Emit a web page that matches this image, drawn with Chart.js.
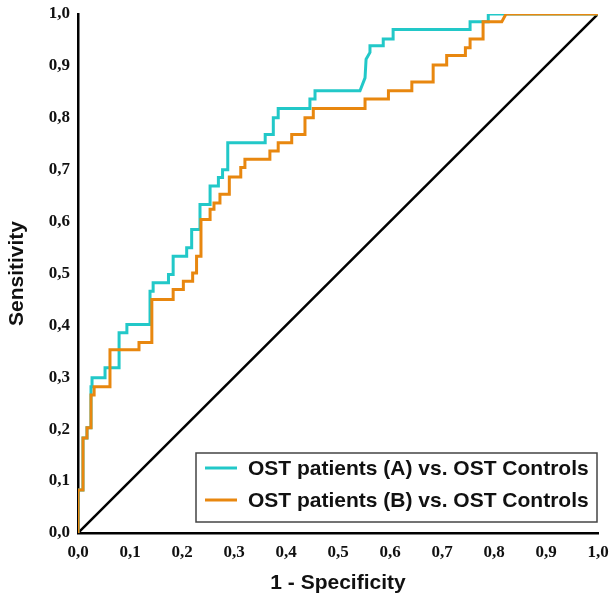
<!DOCTYPE html>
<html lang="en">

<head>
    <meta charset="UTF-8">
    <title>ROC curves OST</title>
    <style>
        body {
            margin: 0;
            background: #ffffff;
        }

        .chart-box {
            width: 611px;
            height: 604px;
        }
    </style>
</head>

<body>
    <div class="chart-box">
        <canvas id="roc-chart"></canvas>
    </div>

    <script src="https://cdn.jsdelivr.net/npm/chart.js"></script>
    <script>
        // ROC curve A: OST patients (A) vs. OST Controls
        const fprA = [0, 0, 0.0096, 0.0096, 0.0173, 0.0173, 0.025, 0.025, 0.027, 0.027, 0.052, 0.052,
            0.079, 0.079, 0.094, 0.094, 0.1385, 0.1385, 0.1445, 0.1445, 0.174, 0.174, 0.183, 0.183,
            0.209, 0.209, 0.2186, 0.2186, 0.2346, 0.2346, 0.254, 0.254, 0.27, 0.27, 0.278, 0.278,
            0.288, 0.288, 0.36, 0.36, 0.3756, 0.3756, 0.385, 0.385, 0.446, 0.446, 0.4558, 0.4558,
            0.5423, 0.552, 0.554, 0.5615, 0.5615, 0.587, 0.587, 0.606, 0.606, 0.754, 0.754, 0.789, 0.789, 1];
        const tprA = [0, 0.083, 0.083, 0.183, 0.183, 0.203, 0.203, 0.282, 0.282, 0.299, 0.299, 0.3185,
            0.3185, 0.386, 0.386, 0.4015, 0.4015, 0.466, 0.466, 0.482, 0.482, 0.498, 0.498, 0.533,
            0.533, 0.5495, 0.5495, 0.585, 0.585, 0.633, 0.633, 0.6686, 0.6686, 0.685, 0.685, 0.70,
            0.70, 0.752, 0.752, 0.768, 0.768, 0.80, 0.80, 0.818, 0.818, 0.836, 0.836, 0.852,
            0.852, 0.877, 0.913, 0.926, 0.939, 0.939, 0.952, 0.952, 0.97, 0.97, 0.985, 0.985, 1, 1];

        // ROC curve B: OST patients (B) vs. OST Controls
        const fprB = [0, 0, 0.0096, 0.0096, 0.0173, 0.0173, 0.025, 0.025, 0.031, 0.031, 0.0615, 0.0615,
            0.1173, 0.1173, 0.142, 0.142, 0.183, 0.183, 0.2026, 0.2026, 0.2205, 0.2205, 0.228, 0.228,
            0.2365, 0.2365, 0.254, 0.254, 0.2615, 0.2615, 0.273, 0.273, 0.291, 0.291, 0.313, 0.313,
            0.321, 0.321, 0.369, 0.369, 0.385, 0.385, 0.411, 0.411, 0.4365, 0.4365, 0.4525, 0.4525,
            0.552, 0.552, 0.597, 0.597, 0.642, 0.642, 0.683, 0.683, 0.709, 0.709, 0.745, 0.745,
            0.754, 0.754, 0.779, 0.779, 0.815, 0.823, 1];
        const tprB = [0, 0.083, 0.083, 0.183, 0.183, 0.203, 0.203, 0.266, 0.266, 0.282, 0.282, 0.353,
            0.353, 0.367, 0.367, 0.45, 0.45, 0.469, 0.469, 0.485, 0.485, 0.501, 0.501, 0.533,
            0.533, 0.604, 0.604, 0.624, 0.624, 0.636, 0.636, 0.6525, 0.6525, 0.686, 0.686, 0.704,
            0.704, 0.72, 0.72, 0.736, 0.736, 0.752, 0.752, 0.768, 0.768, 0.80, 0.80, 0.818,
            0.818, 0.836, 0.836, 0.852, 0.852, 0.869, 0.869, 0.9015, 0.9015, 0.92, 0.92, 0.935,
            0.935, 0.952, 0.952, 0.985, 0.985, 1, 1];

        // reference line
        const diagX = [0, 1];
        const diagY = [0, 1];

        const seriesLabels = ["OST patients (A) vs. OST Controls", "OST patients (B) vs. OST Controls"];
        const axisTicks = [0, 0.1, 0.2, 0.3, 0.4, 0.5, 0.6, 0.7, 0.8, 0.9, 1];

        const toPoints = (xs, ys) => xs.map((x, i) => ({ x: x, y: ys[i] }));
        const fmt = v => Number(v).toFixed(1).replace(".", ",");

        // legend box drawn inside the plot, lower right
        const boxLegend = {
            id: "boxLegend",
            afterDatasetsDraw(chart) {
                const { ctx, chartArea } = chart;
                const sets = chart.data.datasets.filter(d => d.showInLegend);
                const right = chartArea.right - 1;
                const bottom = chartArea.bottom - 11;
                const w = 401, h = 69;
                const left = right - w, top = bottom - h;
                ctx.save();
                ctx.fillStyle = "#ffffff";
                ctx.fillRect(left, top, w, h);
                ctx.strokeStyle = "#444444";
                ctx.lineWidth = 1.5;
                ctx.strokeRect(left, top, w, h);
                ctx.font = "bold 21px 'Liberation Sans', Arial, sans-serif";
                ctx.textBaseline = "middle";
                sets.forEach((d, i) => {
                    const y = top + 15 + i * 32;
                    ctx.strokeStyle = d.borderColor;
                    ctx.lineWidth = 3;
                    ctx.beginPath();
                    ctx.moveTo(left + 9, y);
                    ctx.lineTo(left + 41, y);
                    ctx.stroke();
                    ctx.fillStyle = "#111111";
                    ctx.fillText(d.label, left + 52, y + 1);
                });
                ctx.restore();
            }
        };

        const tickFont = { family: "'Liberation Serif', 'Times New Roman', serif", size: 17, weight: "bold" };
        const titleFont = { family: "'Liberation Sans', Arial, sans-serif", size: 21, weight: "bold" };

        new Chart(document.getElementById("roc-chart"), {
            type: "line",
            data: {
                datasets: [
                    {
                        label: seriesLabels[0],
                        data: toPoints(fprA, tprA),
                        borderColor: "#22c8c8",
                        borderWidth: 3,
                        pointRadius: 0,
                        order: 1,
                        showInLegend: true,
                    },
                    {
                        label: seriesLabels[1],
                        data: toPoints(fprB, tprB),
                        borderColor: "#e8870f",
                        borderWidth: 3,
                        pointRadius: 0,
                        order: 0,
                        showInLegend: true,
                    },
                    {
                        label: "Reference",
                        data: toPoints(diagX, diagY),
                        borderColor: "#000000",
                        borderWidth: 2.5,
                        pointRadius: 0,
                        order: 2,
                        showInLegend: false,
                    },
                ],
            },
            options: {
                responsive: true,
                maintainAspectRatio: false,
                animation: false,
                events: [],
                layout: { padding: { top: 14, right: 13, left: 0, bottom: 0 } },
                plugins: {
                    legend: { display: false },
                    tooltip: { enabled: false },
                },
                scales: {
                    x: {
                        type: "linear",
                        min: 0,
                        max: 1,
                        afterBuildTicks: s => { s.ticks = axisTicks.map(v => ({ value: v })); },
                        afterFit: s => { s.height = 71; s.paddingLeft = 0; s.paddingRight = 0; },
                        grid: { display: false, drawTicks: false },
                        border: { display: true, color: "#000000", width: 2.5 },
                        ticks: { color: "#111111", font: tickFont, padding: 9, maxRotation: 0, callback: fmt },
                        title: { display: true, text: "1 - Specificity", color: "#111111", font: titleFont, padding: { top: 0, bottom: 8 } },
                    },
                    y: {
                        type: "linear",
                        min: 0,
                        max: 1,
                        afterBuildTicks: s => { s.ticks = axisTicks.map(v => ({ value: v })); },
                        afterFit: s => { s.width = 78; s.paddingTop = 0; s.paddingBottom = 0; },
                        grid: { display: false, drawTicks: false },
                        border: { display: true, color: "#000000", width: 2.5 },
                        ticks: { color: "#111111", font: tickFont, padding: 8, callback: fmt },
                        title: { display: true, text: "Sensitivity", color: "#111111", font: titleFont, padding: { top: 5, bottom: 0 } },
                    },
                },
            },
            plugins: [boxLegend],
        });
    </script>
</body>

</html>
